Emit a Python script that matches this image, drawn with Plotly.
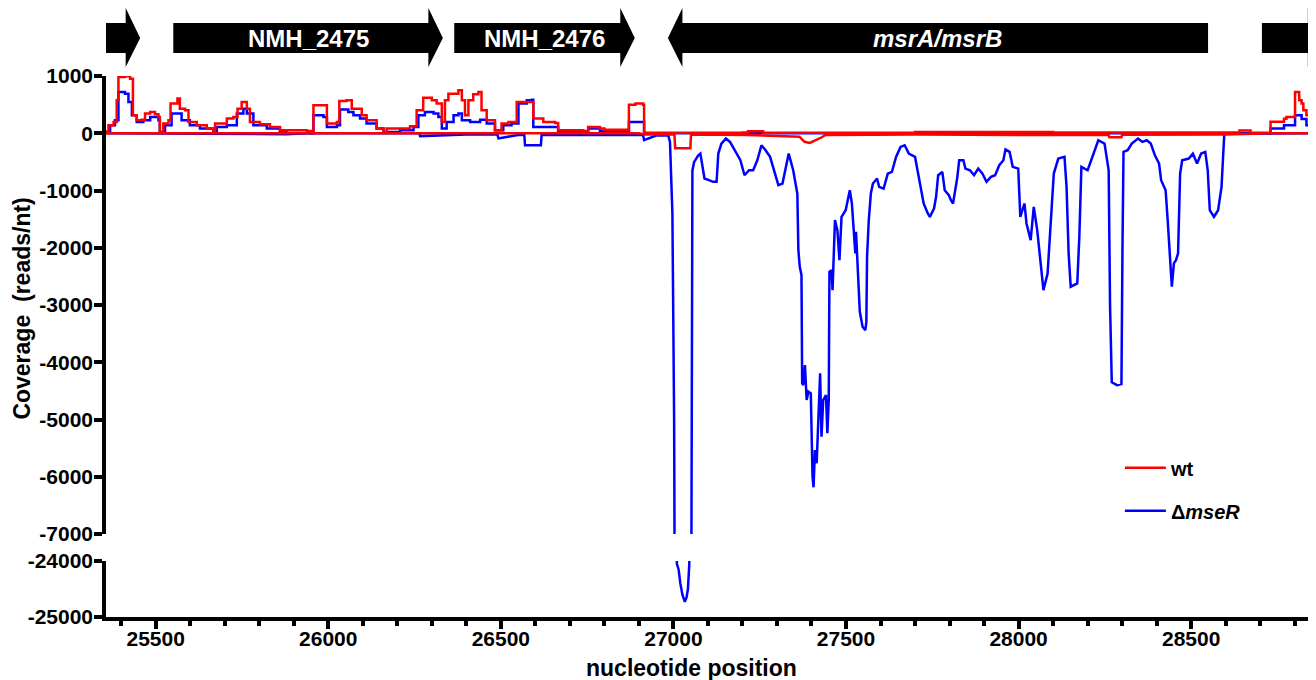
import plotly.graph_objects as go

# ---------------- data (nucleotide position, coverage reads/nt) ----------------
wt_plus_pos = [25356, 25363, 25378, 25387, 25392, 25411, 25426, 25434, 25445, 25460, 25469, 25484, 25498, 25508, 25512,
               25522, 25537, 25543, 25556, 25563, 25570, 25585, 25595, 25619, 25648, 25667, 25672, 25706, 25725, 25737,
               25749, 25764, 25773, 25802, 25831, 25860, 25938, 25957, 25986, 25996, 26025, 26032, 26053, 26068, 26087,
               26097, 26111, 26140, 26160, 26169, 26208, 26237, 26256, 26275, 26300, 26314, 26329, 26338, 26348, 26377,
               26387, 26396, 26406, 26420, 26435, 26444, 26459, 26483, 26502, 26522, 26546, 26590, 26594, 26623, 26657,
               26666, 26739, 26753, 26787, 26800, 26868, 26871, 26890, 26912, 26915, 27200, 27216, 27250, 27260, 27700,
               28100, 28636, 28640, 28670, 28672, 28728, 28730, 28767, 28769, 28776, 28796, 28801, 28805, 28813, 28820,
               28825, 28834, 28842, 28849, 28853]
wt_plus_cov = [30, 140, 198, 576, 983, 995, 954, 314, 227, 238, 343, 372, 332, 285, 23,
               169, 227, 518, 518, 605, 430, 401, 198, 140, 82, 23, 169, 256, 285, 430,
               547, 430, 198, 157, 111, 52, 41, 489, 489, 169, 198, 564, 576, 430, 430,
               314, 227, 82, 23, 82, 82, 122, 401, 622, 576, 518, 198, 576, 692, 750,
               576, 314, 576, 680, 721, 401, 227, 52, 169, 198, 547, 547, 256, 198, 180,
               52, 41, 111, 82, 60, 60, 500, 520, 500, 10, 15, 35, 35, 10, 20,
               15, 15, 50, 50, 10, 10, 200, 200, 254, 285, 285, 721, 721, 576, 518,
               402, 314, 111, 0, 0]

wt_minus_pos = [25356, 26900, 26915, 27003, 27005, 27049, 27051, 27216, 27365, 27380, 27395, 27410, 27430, 27440,
                27700, 28000, 28261, 28263, 28298, 28300, 28600, 28730, 28853]
wt_minus_cov = [0, 0, -20, -20, -260, -260, -20, -30, -60, -150, -170, -130, -70, -30,
                -20, -30, -30, -70, -70, -25, -20, 0, 0]

mse_plus_pos = [25356, 25368, 25382, 25392, 25411, 25421, 25431, 25445, 25464, 25484, 25508, 25512, 25527, 25546,
                25566, 25575, 25599, 25628, 25667, 25677, 25706, 25735, 25754, 25764, 25783, 25822, 25860, 25879,
                25950, 25957, 25986, 25996, 26025, 26034, 26058, 26073, 26092, 26111, 26140, 26160, 26208, 26247,
                26261, 26280, 26305, 26319, 26329, 26343, 26363, 26377, 26387, 26411, 26440, 26459, 26483, 26507,
                26531, 26551, 26575, 26590, 26594, 26657, 26666, 26750, 26753, 26787, 26868, 26871, 26912, 26915,
                28728, 28730, 28767, 28769, 28796, 28801, 28808, 28820, 28834, 28842, 28849, 28853]
mse_plus_cov = [20, 140, 227, 721, 692, 547, 314, 198, 227, 285, 227, 23, 140, 343,
                343, 227, 140, 82, 41, 111, 140, 343, 430, 343, 140, 82, 23, 0,
                0, 314, 285, 111, 140, 413, 372, 314, 256, 169, 82, 23, 52, 111,
                314, 372, 343, 285, 82, 198, 314, 343, 227, 198, 238, 169, 52, 140,
                169, 518, 576, 587, 111, 111, 30, 30, 82, 40, 40, 198, 198, 0,
                0, 81, 81, 140, 140, 314, 314, 250, 140, 25, 0, 0]

mse_minus_pos = [25356, 25879, 25938, 26264, 26266, 26400, 26490, 26493, 26550, 26568, 26570, 26616, 26618, 26912,
                 26915, 26950, 26985, 26990, 26997,
                 27002, 27006, 27010, 27015, 27020, 27026, 27033, 27038, 27042, 27046, 27050, 27053, 27055, 27060,
                 27072, 27078, 27084, 27090, 27103, 27115, 27125, 27130, 27139, 27152, 27164, 27182, 27194, 27206,
                 27219, 27231, 27243, 27255, 27267, 27280, 27292, 27304, 27316, 27328, 27334, 27347, 27359, 27362,
                 27366, 27371, 27373, 27376, 27381, 27386, 27391, 27398, 27400, 27403, 27406, 27410, 27415, 27420,
                 27425, 27429, 27434, 27442, 27446, 27450, 27452, 27458, 27461, 27468, 27475, 27481, 27487, 27499,
                 27511, 27517, 27523, 27527, 27529, 27536, 27540, 27548, 27556, 27559, 27561, 27566, 27572, 27578,
                 27590, 27596, 27609, 27621, 27633, 27645, 27658, 27670, 27682, 27700, 27712, 27725, 27737, 27743,
                 27755, 27761, 27767, 27779, 27786, 27798, 27804, 27810, 27822, 27828, 27840, 27846, 27859, 27871,
                 27883, 27895, 27907, 27920, 27932, 27944, 27956, 27962, 27974, 27983, 27999, 28005, 28017, 28023,
                 28035, 28044, 28054, 28066, 28072, 28084, 28096, 28102, 28115, 28133, 28139, 28145, 28151, 28170,
                 28176, 28182, 28200, 28218, 28231, 28249, 28261, 28265, 28270, 28285, 28298, 28301, 28304, 28316,
                 28328, 28346, 28359, 28371, 28383, 28395, 28407, 28413, 28426, 28432, 28438, 28444, 28450, 28456,
                 28462, 28468, 28474, 28493, 28505, 28517, 28529, 28541, 28548, 28554, 28566, 28578, 28588, 28596,
                 28853]
mse_minus_cov = [0, -17, 0, 0, -50, -20, -20, -90, -30, -30, -210, -210, -30, -30,
                 -120, -40, -40, -150, -1400,
                 -5000, -12000, -24050, -24150, -24400, -24600, -24730, -24650, -24500, -24050, -12000, -2000, -650, -500,
                 -384, -355, -558, -791, -820, -849, -849, -355, -180, -93, -151, -355, -471, -733,
                 -646, -646, -471, -209, -297, -413, -646, -907, -878, -558, -355, -646, -1053, -2042,
                 -2333, -2478, -4369, -4398, -4049, -4660, -4514, -4543, -5125, -5998, -6184, -5532, -5765, -5067,
                 -4194, -5300, -4660, -4572, -5241, -4660, -2420, -2391, -2740, -1518, -1693, -2216, -1460, -1344,
                 -995, -1227, -1722, -2100, -1722, -2681, -3118, -3380, -3438, -3300, -2158, -1518, -1053, -878,
                 -791, -936, -966, -704, -675, -413, -238, -209, -355, -413, -820, -1227, -1402, -1460,
                 -1315, -1111, -733, -675, -995, -1082, -1169, -1227, -791, -471, -471, -617, -646, -733,
                 -617, -704, -849, -762, -733, -558, -471, -285, -326, -587, -617, -1460, -1227, -1576,
                 -1867, -1285, -1693, -2333, -2740, -2449, -1227, -704, -442, -413, -936, -2100, -2681, -2623,
                 -1809, -587, -646, -355, -122, -180, -646, -3000, -4350, -4400, -4380, -2000, -326, -297,
                 -180, -93, -151, -122, -180, -384, -529, -820, -995, -1518, -2216, -2681, -2274, -2216,
                 -2100, -704, -471, -442, -355, -529, -355, -326, -646, -1344, -1460, -1344, -936, -6,
                 0]

# genes drawn above the plot
gene_labels = ["", "NMH_2475", "NMH_2476", "<i>msrA/msrB</i>", ""]
gene_start = [25300, 25551, 26365, 26984, 28705]
gene_end = [25455, 26332, 26888, 28549, 28880]
gene_strand = [1, 1, 1, -1, 1]

x_tick_vals = [25500, 26000, 26500, 27000, 27500, 28000, 28500]
y_top_ticks = [1000, 0, -1000, -2000, -3000, -4000, -5000, -6000, -7000]
y_bottom_ticks = [-24000, -25000]

# ---------------- figure ----------------
RED = "#ff0000"
BLUE = "#0000ff"
LW = 2.5
FONT = "Liberation Sans, Arial, Helvetica, sans-serif"

fig = go.Figure()
fig.add_trace(go.Scatter(x=mse_plus_pos, y=mse_plus_cov, mode="lines", line=dict(color=BLUE, width=LW, shape="hv"),
                         name="\u0394<i>mseR</i>", legendgroup="mse", legendrank=2, xaxis="x", yaxis="y"))
fig.add_trace(go.Scatter(x=mse_minus_pos, y=mse_minus_cov, mode="lines", line=dict(color=BLUE, width=LW),
                         name="\u0394<i>mseR</i>", legendgroup="mse", showlegend=False, xaxis="x", yaxis="y"))
fig.add_trace(go.Scatter(x=mse_minus_pos, y=mse_minus_cov, mode="lines", line=dict(color=BLUE, width=LW),
                         name="\u0394<i>mseR</i>", legendgroup="mse", showlegend=False, xaxis="x", yaxis="y2"))
fig.add_trace(go.Scatter(x=wt_plus_pos, y=wt_plus_cov, mode="lines", line=dict(color=RED, width=LW, shape="hv"),
                         name="wt", legendgroup="wt", legendrank=1, xaxis="x", yaxis="y"))
fig.add_trace(go.Scatter(x=wt_minus_pos, y=wt_minus_cov, mode="lines", line=dict(color=RED, width=LW),
                         name="wt", legendgroup="wt", showlegend=False, xaxis="x", yaxis="y"))

# gene arrows (x in nucleotides, y in paper units above the plot)
HEAD = 42
BODY_TOP, BODY_BOT = 1.098, 1.0425
HEAD_TOP, HEAD_BOT, MID = 1.1257, 1.0166, 1.0702
shapes = []
annotations = []
for lab, s, e, st in zip(gene_labels, gene_start, gene_end, gene_strand):
    if st > 0:
        hb = e - HEAD
        path = (f"M {s},{BODY_BOT} L {hb},{BODY_BOT} L {hb},{HEAD_BOT} L {e},{MID} "
                f"L {hb},{HEAD_TOP} L {hb},{BODY_TOP} L {s},{BODY_TOP} Z")
    else:
        hb = s + HEAD
        path = (f"M {e},{BODY_BOT} L {hb},{BODY_BOT} L {hb},{HEAD_BOT} L {s},{MID} "
                f"L {hb},{HEAD_TOP} L {hb},{BODY_TOP} L {e},{BODY_TOP} Z")
    shapes.append(dict(type="path", path=path, xref="x", yref="paper", fillcolor="black",
                       line=dict(width=0), layer="above"))
    if lab:
        annotations.append(dict(x=(s + e) / 2 if st < 0 else (s + e) / 2, y=MID, xref="x", yref="paper",
                                text=lab, showarrow=False,
                                font=dict(family=FONT, size=24, color="white", weight="bold"),
                                xanchor="center", yanchor="middle"))

annotations.append(dict(x=0.4855, y=-0.094, xref="paper", yref="paper", text="nucleotide position",
                        showarrow=False, xanchor="center", yanchor="middle",
                        font=dict(family=FONT, size=23, color="black", weight="bold")))
annotations.append(dict(x=-0.0696, y=0.570, xref="paper", yref="paper", text="Coverage\u00a0\u00a0(reads/nt)",
                        showarrow=False, xanchor="center", yanchor="middle", textangle=-90,
                        font=dict(family=FONT, size=23, color="black", weight="bold")))

axis_common = dict(showline=True, linewidth=3.5, linecolor="black", ticks="outside", ticklen=8, tickwidth=3.5,
                   tickcolor="black", showgrid=False, zeroline=False,
                   tickfont=dict(family=FONT, size=21, color="black", weight="bold"))

# the page adds an 8 px body margin, so the figure is 8 px smaller and its margins 8 px tighter
fig.update_layout(
    width=1308, height=672,
    margin=dict(l=98, r=3, t=68, b=63),
    paper_bgcolor="white", plot_bgcolor="white",
    font=dict(family=FONT, color="black"),
    shapes=shapes, annotations=annotations,
    showlegend=True,
    legend=dict(x=0.84, y=0.312, xanchor="left", yanchor="top", bgcolor="rgba(0,0,0,0)",
                font=dict(family=FONT, size=20, color="black", weight="bold"),
                tracegroupgap=14, traceorder="grouped", itemwidth=41),
    xaxis=dict(domain=[0, 1], range=[25356, 28853], anchor="y2", ticklabelstandoff=-8,
               tickvals=x_tick_vals, ticktext=[str(v) for v in x_tick_vals],
               minor=dict(dtick=100, tick0=0, ticks="outside", ticklen=5, tickwidth=3.5, tickcolor="black"),
               **axis_common),
    yaxis=dict(domain=[0.1534, 1], range=[-7000, 1000], anchor="x", ticklabelstandoff=-3,
               tickvals=y_top_ticks, ticktext=[str(v) for v in y_top_ticks], **axis_common),
    yaxis2=dict(domain=[0, 0.1035], range=[-25000, -24000], anchor="x", ticklabelstandoff=-3,
                tickvals=y_bottom_ticks, ticktext=[str(v) for v in y_bottom_ticks], **axis_common),
)

fig.write_html("out.html")
